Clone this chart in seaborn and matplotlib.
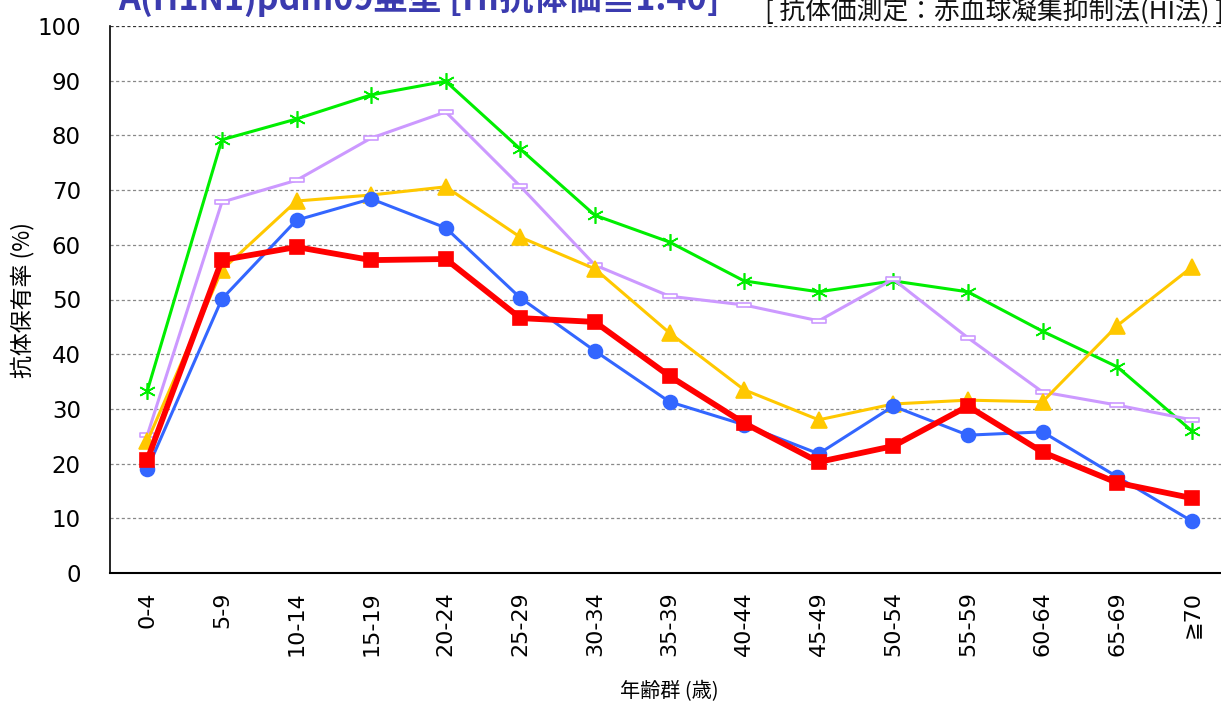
import numpy as np
import pandas as pd
import matplotlib
matplotlib.use("Agg")
import matplotlib.pyplot as plt
from matplotlib.path import Path
import seaborn as sns

# age groups and antibody positive rates (%) per season
age_groups = ["0-4", "5-9", "10-14", "15-19", "20-24", "25-29", "30-34", "35-39",
              "40-44", "45-49", "50-54", "55-59", "60-64", "65-69", "≧70"]
green_vals = [33.3, 79.2, 83.0, 87.4, 89.9, 77.5, 65.4, 60.5, 53.4, 51.4, 53.4, 51.4, 44.2, 37.7, 26.0]
purple_vals = [25.2, 67.8, 71.8, 79.5, 84.3, 70.7, 56.3, 50.6, 49.0, 46.1, 53.7, 43.0, 33.1, 30.7, 28.0]
yellow_vals = [24.1, 55.4, 68.0, 69.1, 70.6, 61.4, 55.6, 43.9, 33.5, 28.0, 30.9, 31.6, 31.3, 45.2, 55.9]
blue_vals = [19.0, 50.1, 64.5, 68.4, 63.1, 50.3, 40.6, 31.3, 27.1, 21.8, 30.5, 25.2, 25.8, 17.6, 9.5]
red_vals = [20.7, 57.2, 59.6, 57.2, 57.4, 46.6, 45.9, 36.0, 27.4, 20.3, 23.2, 30.5, 22.1, 16.5, 13.7]

sns.set_theme(style="white")
plt.rcParams['font.family'] = ['DejaVu Sans', 'Noto Sans CJK JP']
plt.rcParams['text.color'] = 'black'
plt.rcParams['axes.labelcolor'] = 'black'
plt.rcParams['xtick.color'] = 'black'
plt.rcParams['ytick.color'] = 'black'

fig = plt.figure(figsize=(12.21, 7.02), dpi=100)
ax = fig.add_axes([110 / 1221, 1 - 573 / 702, 1119 / 1221, 547 / 702])

x = np.arange(len(age_groups))

# flat hollow rectangle marker for the purple series
bar_marker = Path([(-1, -0.28), (1, -0.28), (1, 0.28), (-1, 0.28), (-1, -0.28)],
                  [Path.MOVETO, Path.LINETO, Path.LINETO, Path.LINETO, Path.CLOSEPOLY])

series = [
    (green_vals, "#00EE00", (6, 2, 0), 12, 2.2, "#00EE00"),
    (purple_vals, "#CC99FF", bar_marker, 10, 2.2, "white"),
    (yellow_vals, "#FFC800", "^", 11, 2.2, "#FFC800"),
    (blue_vals, "#3366FF", "o", 10, 2.2, "#3366FF"),
    (red_vals, "#FF0000", "s", 10, 4.2, "#FF0000"),
]

for vals, color, marker, ms, lw, mfc in series:
    df = pd.DataFrame({"x": x, "y": vals})
    sns.lineplot(data=df, x="x", y="y", ax=ax, color=color, linewidth=lw,
                 marker=marker, markersize=ms, markerfacecolor=mfc,
                 markeredgecolor=color, markeredgewidth=1.2, sort=False)

ax.set_xlim(-0.5, len(age_groups) - 0.5)
ax.set_ylim(0, 100)
ax.set_yticks(np.arange(0, 101, 10))
ax.set_xticks(x)
ax.set_xticklabels(age_groups, rotation=90, fontsize=16)
ax.tick_params(axis="y", labelsize=16.5, length=0, pad=21, labelcolor="black")
ax.tick_params(axis="x", length=0, pad=13, labelcolor="black")
for label in ax.get_xticklabels():
    label.set_verticalalignment("top")

for v in np.arange(10, 101, 10):
    ax.axhline(v, color="#888888" if v < 100 else "#333333", linewidth=0.9,
               linestyle=(0, (2.5, 2)), zorder=0)

for side in ["top", "right"]:
    ax.spines[side].set_visible(False)
ax.spines["left"].set_color("black")
ax.spines["left"].set_linewidth(1.2)
ax.spines["bottom"].set_color("black")
ax.spines["bottom"].set_linewidth(1.5)

ax.set_xlabel("年齢群 (歳)", fontsize=14.5, color="black",
              family=['Noto Sans CJK JP', 'DejaVu Sans'])
ax.set_ylabel("抗体保有率 (%)", fontsize=16.5, color="black",
              family=['Noto Sans CJK JP', 'DejaVu Sans'])
ax.xaxis.set_label_coords(0.5, (573 - 681) / 547)
ax.yaxis.set_label_coords((34 - 110) / 1119, 0.5)

fig.text(118 / 1221, 1 - 10 / 702, "A(H1N1)pdm09亜型 [HI抗体価≧1:40]",
         fontsize=24.5, fontweight="bold", color="#3B3BAF", va="baseline",
         family=['Noto Sans CJK JP', 'DejaVu Sans'])
fig.text(765 / 1221, 1 - 19 / 702, "[ 抗体価測定：赤血球凝集抑制法(HI法) ]",
         fontsize=18.5, color="#111111", va="baseline",
         family=['Noto Sans CJK JP', 'DejaVu Sans'])

fig.savefig("out.png", dpi=100)
